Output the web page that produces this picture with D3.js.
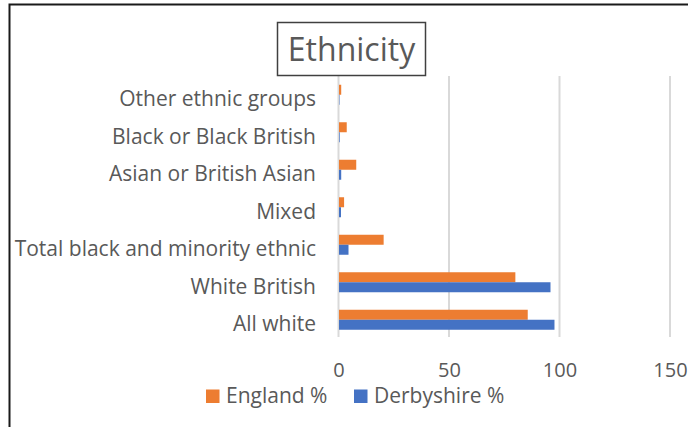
<!DOCTYPE html>
<html>
<head>
<meta charset="utf-8">
<script src="https://cdn.jsdelivr.net/npm/d3@7"></script>
<style>
html,body{margin:0;padding:0;background:#fff;}
svg{display:block;}
text{font-family:"Open Sans",sans-serif;fill:#595959;}
</style>
</head>
<body>
<svg id="chart" width="688" height="427"></svg>
<script>
const categories = ["Other ethnic groups","Black or Black British","Asian or British Asian","Mixed","Total black and minority ethnic","White British","All white"];
const england = [1.0, 3.5, 7.8, 2.3, 20.2, 79.8, 85.4];
const derbyshire = [0.2, 0.3, 1.0, 0.9, 4.3, 95.7, 97.5];
const seriesNames = ["England %","Derbyshire %"];
const seriesColors = ["#ED7D31","#4472C4"];
const xTicks = [0, 50, 100, 150];
const title = "Ethnicity";

const svg = d3.select("#chart");

// outer frame
svg.append("rect").attr("x",9.5).attr("y",4.5).attr("width",700).attr("height",450)
  .attr("fill","none").attr("stroke","#1a1a1a").attr("stroke-width",2);

const x = d3.scaleLinear().domain([0,150]).range([339,670.5]);
const y = d3.scaleBand().domain(categories).range([76,338.5]).paddingInner(0).paddingOuter(0);
const barH = 10;

// gridlines
svg.append("g").selectAll("line").data(xTicks).join("line")
  .attr("x1",d=>x(d)-0.5).attr("x2",d=>x(d)-0.5)
  .attr("y1",76).attr("y2",337)
  .attr("stroke","#d9d9d9").attr("stroke-width",2);

// bars
const series = [england, derbyshire];
series.forEach((vals,si)=>{
  svg.append("g").selectAll("rect").data(categories).join("rect")
    .attr("x",x(0))
    .attr("y",(d)=>y(d)+y.bandwidth()/2 - barH + si*barH)
    .attr("width",(d,i)=>Math.max(0,x(vals[i])-x(0)))
    .attr("height",barH)
    .attr("fill",seriesColors[si]);
});

// category labels
svg.append("g").selectAll("text").data(categories).join("text")
  .attr("x",316).attr("y",d=>y(d)+y.bandwidth()/2+11.5)
  .attr("text-anchor","end")
  .style("font-size","21px").text(d=>d);

// x axis tick labels
svg.append("g").selectAll("text").data(xTicks).join("text")
  .attr("x",d=>x(d)).attr("y",376.5)
  .attr("text-anchor","middle")
  .style("font-size","20px").text(d=>d);

// title box
svg.append("rect").attr("x",277.5).attr("y",22.5).attr("width",148).attr("height",53)
  .attr("fill","#fff").attr("stroke","#404040").attr("stroke-width",1.5);
svg.append("text").attr("x",351.5).attr("y",61).attr("text-anchor","middle")
  .style("font-size","32px").text(title);

// legend
const legX = [206, 354];
seriesNames.forEach((n,i)=>{
  svg.append("rect").attr("x",legX[i]).attr("y",389.5).attr("width",13.5).attr("height",13.5).attr("fill",seriesColors[i]);
  svg.append("text").attr("x",legX[i]+20).attr("y",403)
    .style("font-size","21px").text(n);
});
</script>
</body>
</html>
